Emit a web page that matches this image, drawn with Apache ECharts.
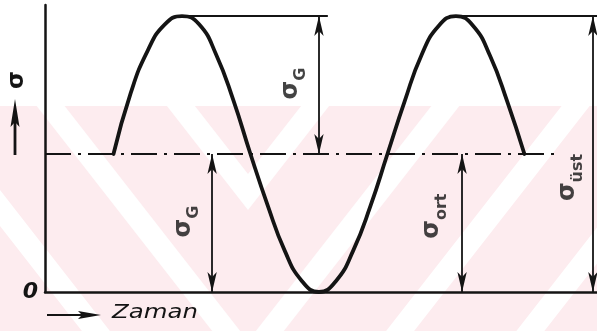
<!DOCTYPE html>
<html>
<head>
<meta charset="utf-8">
<script src="https://cdn.jsdelivr.net/npm/echarts@6/dist/echarts.min.js"></script>
<style>
  html, body { margin: 0; padding: 0; background: #ffffff; }
  #chart { width: 597px; height: 331px; }
</style>
</head>
<body>
<div id="chart"></div>
<script>
// Stress over time: a sinusoidal load about a mean stress.
// Time in quarter periods, stress in units of the amplitude σ_G.
const curveTime   = [1.00, 1.25, 1.50, 1.75, 2.00, 2.25, 2.50, 2.75, 3.00, 3.25, 3.50, 3.75, 4.00, 4.25, 4.50, 4.75, 5.00, 5.25, 5.50, 5.75, 6.00, 6.25, 6.50, 6.75, 7.00];
const curveStress = [1.00, 1.44, 1.75, 1.94, 2.00, 1.94, 1.72, 1.39, 1.00, 0.63, 0.30, 0.08, 0.00, 0.08, 0.30, 0.62, 1.00, 1.38, 1.72, 1.93, 2.00, 1.93, 1.71, 1.38, 1.00];

const meanStress  = 1;      // σ_ort
const upperStress = 2;      // σ_üst = σ_ort + σ_G
const meanLineEnd = 7.45;

// horizontal extension lines at the upper stress
const peakLineStart = [1.97, 5.91];
const peakLineEnd   = [4.13, 8.06];

// dimension arrows
const dimensionTime = [4.00, 2.44, 6.09, 8.00];
const dimensionFrom = [1, 0, 0, 0];
const dimensionTo   = [2, 1, 1, 2];

// dimension labels
const labelMain   = ['σ', 'σ', 'σ', 'σ'];
const labelSub    = ['G', 'G', 'ort', 'üst'];
const labelTime   = [3.63, 2.07, 5.69, 7.68];
const labelStress = [1.51, 0.51, 0.55, 0.83];

const INK = '#141414';
const FONT = '"DejaVu Sans", sans-serif';

// ---- faint background mark: pink field crossed by nested white chevrons ----
function backgroundMark() {
  const top = 106, bottom = 331, left = 0, right = 597;
  const apexX = 248, slope = 0.78, halfBand = 14;
  const apexYs = [192, 359, 526, 693];
  const shapes = [{
    type: 'rect', silent: true, z: -10,
    shape: { x: left, y: top, width: right - left, height: bottom - top },
    style: { fill: '#fdecef' }
  }];
  apexYs.forEach(vy => {
    const reach = slope * (vy - top);
    const dy = halfBand / slope;
    const points = [
      [apexX - reach - halfBand, top],
      [apexX, vy + dy],
      [apexX + reach + halfBand, top],
      [apexX + reach - halfBand, top],
      [apexX, vy - dy],
      [apexX - reach + halfBand, top]
    ];
    shapes.push({
      type: 'polygon', silent: true, z: -9,
      shape: { points },
      style: { fill: '#ffffff' }
    });
  });
  return shapes;
}

const chart = echarts.init(document.getElementById('chart'), null, { renderer: 'canvas' });

const dimensionLines = dimensionTime.map((t, i) => [
  { coord: [t, dimensionFrom[i]] },
  { coord: [t, dimensionTo[i]] }
]);
const peakLines = peakLineStart.map((s, i) => [
  { coord: [s, upperStress] },
  { coord: [peakLineEnd[i], upperStress] }
]);

chart.setOption({
  animation: false,
  backgroundColor: '#ffffff',
  grid: { left: 45, right: 0, top: 5, bottom: 39 },
  xAxis: {
    type: 'value', min: 0, max: 8.06,
    axisLine: { show: true, lineStyle: { color: INK, width: 2.5 } },
    axisTick: { show: false },
    axisLabel: { show: false },
    splitLine: { show: false }
  },
  yAxis: {
    type: 'value', min: 0, max: 2.08, interval: 1,
    axisLine: { show: true, lineStyle: { color: INK, width: 2.5 } },
    axisTick: { show: false },
    splitLine: { show: false },
    axisLabel: {
      margin: 7,
      color: INK,
      fontFamily: FONT,
      fontStyle: 'italic',
      fontWeight: 'bold',
      fontSize: 22,
      padding: [6, 0, 0, 0],
      formatter: v => (v === 0 ? '0' : '')
    }
  },
  graphic: backgroundMark().concat([
    // σ axis caption with arrow
    {
      type: 'line', silent: true,
      shape: { x1: 15, y1: 155, x2: 15, y2: 118 },
      style: { stroke: INK, lineWidth: 2.8 }
    },
    {
      type: 'polygon', silent: true,
      shape: { points: [[15, 99], [19.5, 127], [15, 122], [10.5, 127]] },
      style: { fill: INK }
    },
    {
      type: 'text', silent: true,
      x: 17, y: 80, rotation: Math.PI / 2,
      style: {
        text: 'σ', fill: INK, font: 'bold 23px ' + FONT,
        align: 'center', verticalAlign: 'middle'
      }
    },
    // time axis caption with arrow
    {
      type: 'line', silent: true,
      shape: { x1: 47, y1: 315, x2: 88, y2: 315 },
      style: { stroke: INK, lineWidth: 2.2 }
    },
    {
      type: 'polygon', silent: true,
      shape: { points: [[101, 315], [78, 311], [82, 315], [78, 319]] },
      style: { fill: INK }
    },
    {
      type: 'text', silent: true,
      x: 112, y: 313, scaleX: 1.22,
      style: {
        text: 'Zaman', fill: INK, font: 'italic 20px ' + FONT,
        align: 'left', verticalAlign: 'middle'
      }
    }
  ]),
  series: [
    {
      name: 'σ(t)',
      type: 'line',
      data: curveTime.map((t, i) => [t, curveStress[i]]),
      smooth: 0.5,
      showSymbol: false,
      silent: true,
      z: 5,
      lineStyle: { color: INK, width: 3.8, cap: 'round', join: 'round' }
    },
    {
      name: 'σ_ort',
      type: 'line',
      data: [[0, meanStress], [meanLineEnd, meanStress]],
      showSymbol: false,
      silent: true,
      z: 4,
      lineStyle: { color: INK, width: 2.2, type: [26, 7, 3, 7] }
    },
    {
      name: 'guides',
      type: 'line',
      data: [],
      silent: true,
      z: 4,
      markLine: {
        silent: true,
        animation: false,
        symbol: ['none', 'none'],
        label: { show: false },
        lineStyle: { color: INK, width: 2.2, type: 'solid' },
        data: peakLines
      }
    },
    {
      name: 'dimensions',
      type: 'line',
      data: [],
      silent: true,
      z: 4,
      markLine: {
        silent: true,
        animation: false,
        symbol: ['arrow', 'arrow'],
        symbolSize: [7, 20],
        label: { show: false },
        lineStyle: { color: INK, width: 1.8, type: 'solid' },
        data: dimensionLines
      }
    },
    {
      name: 'labels',
      type: 'scatter',
      silent: true,
      symbolSize: 0,
      z: 6,
      data: labelTime.map((t, i) => [t, labelStress[i], i]),
      label: {
        show: true,
        position: 'inside',
        rotate: 90,
        color: INK,
        formatter: p => '{s|' + labelMain[p.data[2]] + '}{sub|' + labelSub[p.data[2]] + '}',
        rich: {
          s:   { fontFamily: FONT, fontSize: 24, fontWeight: 'bold', color: INK, verticalAlign: 'bottom', padding: [0, 0, 6, 0] },
          sub: { fontFamily: FONT, fontSize: 16, fontWeight: 'bold', color: INK, verticalAlign: 'bottom' }
        }
      }
    }
  ]
});
</script>
</body>
</html>
